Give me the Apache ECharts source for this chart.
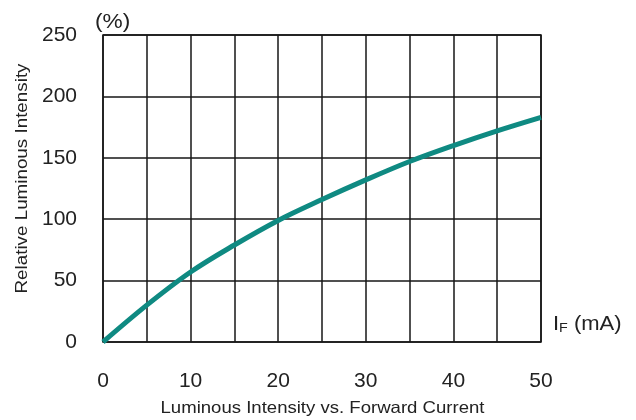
<!DOCTYPE html>
<html>
<head>
<meta charset="utf-8">
<script src="https://cdn.jsdelivr.net/npm/echarts@6/dist/echarts.min.js"></script>
<style>html,body{margin:0;padding:0;background:#fff}#c{width:636px;height:420px}</style>
</head>
<body>
<div id="c"></div>
<script>
var currentMA = [0, 5, 10, 15, 20, 25, 30, 35, 40, 45, 50];
var relIntensity = [0, 30, 57, 79, 99, 116, 132, 147, 160, 172, 183];
var xLabels = [0, 10, 20, 30, 40, 50];
var yLabels = [0, 50, 100, 150, 200, 250];

var chart = echarts.init(document.getElementById('c'), null, {renderer: 'canvas'});
var font = '"Liberation Sans", Arial, Helvetica, sans-serif';
var data = currentMA.map(function (x, i) { return [x, relIntensity[i]]; });
chart.setOption({
  animation: false,
  backgroundColor: '#fff',
  textStyle: {fontFamily: font},
  grid: {left: 103, right: 95, top: 35, bottom: 78, show: false},
  xAxis: {
    type: 'value', min: 0, max: 50, interval: 5,
    axisLine: {show: false},
    axisTick: {show: false},
    splitLine: {show: true, lineStyle: {color: '#161616', width: 1.5}},
    axisLabel: {
      margin: 29, fontSize: 21, color: '#222', fontFamily: font,
      formatter: function (v) { return xLabels.indexOf(v) >= 0 ? String(v) : ''; }
    }
  },
  yAxis: {
    type: 'value', min: 0, max: 250, interval: 50,
    axisLine: {show: false},
    axisTick: {show: false},
    splitLine: {show: true, lineStyle: {color: '#161616', width: 1.5}},
    axisLabel: {
      margin: 26, fontSize: 21, color: '#222', fontFamily: font,
      formatter: function (v) { return yLabels.indexOf(v) >= 0 ? String(v) : ''; }
    }
  },
  graphic: [
    {type: 'rect', shape: {x: 103, y: 35, width: 438, height: 307}, style: {fill: 'none', stroke: '#161616', lineWidth: 1.5}, z: 10},
    {type: 'text', x: 22, y: 178.5, rotation: Math.PI / 2, scaleX: 1.14,
      style: {text: 'Relative Luminous Intensity', font: '16.5px ' + font, fill: '#222', align: 'center', verticalAlign: 'middle'}},
    {type: 'text', x: 95, y: 22, scaleX: 1.08,
      style: {text: '(%)', font: '21px ' + font, fill: '#222', align: 'left', verticalAlign: 'middle'}},
    {type: 'text', x: 553, y: 324, scaleX: 1.1, style: {
      text: '{a|I}{b|F}{a| (mA)}', align: 'left', verticalAlign: 'middle',
      rich: {
        a: {fontSize: 20, fontFamily: font, fill: '#222'},
        b: {fontSize: 13, fontFamily: font, fill: '#222', verticalAlign: 'bottom', padding: [9, 0, 0, 0]}
      }
    }},
    {type: 'text', x: 322.5, y: 408, scaleX: 1.125,
      style: {text: 'Luminous Intensity vs. Forward Current', font: '16.5px ' + font, fill: '#222', align: 'center', verticalAlign: 'middle'}}
  ],
  series: [{
    type: 'line', data: data, smooth: 0.35, symbol: 'none',
    lineStyle: {color: '#0f8a82', width: 5}, z: 20
  }]
});
</script>
</body>
</html>
